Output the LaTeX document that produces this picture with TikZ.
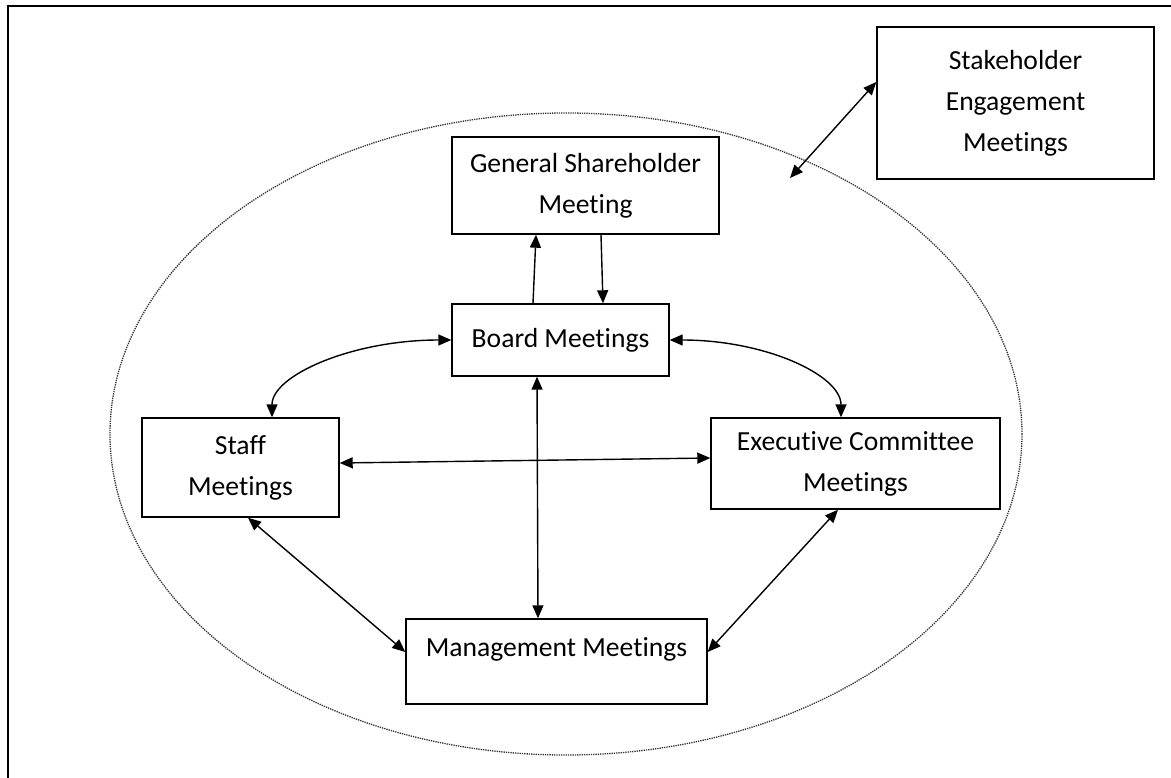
\documentclass[tikz,border=0pt]{standalone}
\usepackage{fontspec}
\setmainfont{Carlito}[Ligatures=NoCommon]
\usetikzlibrary{arrows.meta}
\newcommand{\meetingBox}[5]{%%
  \node[boxStyle,minimum width=#3pt,minimum height=#4pt] (#1) at (#2) {#5};
}
\begin{document}
\begin{tikzpicture}[%%
  x=1pt,y=-1pt,%%
  boxStyle/.style={draw,line width=1.4pt,inner sep=0pt,align=center,font=\fontsize{27.6}{41}\selectfont},%%
  arrowStyle/.style={{Triangle[length=13pt,width=11pt]}-{Triangle[length=13pt,width=11pt]},line width=1.4pt},%%
  oneWayStyle/.style={-{Triangle[length=13pt,width=11pt]},line width=1.4pt},%%
  ellipseStyle/.style={densely dotted,line width=1.3pt,black!80},%%
  frameStyle/.style={line width=2.2pt}
]
\useasboundingbox (0,0) rectangle (1171,778);
%%
%% The frame and the dotted ellipse.
\draw[frameStyle] (1171,6) -- (8,6) -- (8,778);
\draw[ellipseStyle] (566,434) ellipse [x radius=456, y radius=321];
%%
%% The meetings.
\meetingBox{stake}{1015.5,103}{277}{152}{Stakeholder\\Engagement\\Meetings}
\meetingBox{general}{585.5,185.5}{267}{97}{General Shareholder\\Meeting}
\meetingBox{board}{560.5,340}{217}{72}{Board Meetings}
\meetingBox{staff}{240.5,467.5}{197}{99}{Staff\\Meetings}
\meetingBox{exec}{855.5,463.5}{289}{91}{Executive Committee\\Meetings}
\node[boxStyle,minimum width=301pt,minimum height=85pt,text height=20pt,text depth=31pt]
  (mgmt) at (556.5,661.5) {Management Meetings};
\coordinate (outside) at (790,178);
%%
%% Board and general meeting.
\draw[oneWayStyle] ([xshift=-27.5pt]board.north) -- ([xshift=-49.5pt]general.south);
\draw[oneWayStyle] ([xshift=15.5pt]general.south) -- ([xshift=42.5pt]board.north);
%%
%% Board to staff and executive.
\draw[arrowStyle] (board.west) .. controls +(-99,0) and +(0,-42) .. ([xshift=31.5pt]staff.north);
\draw[arrowStyle] (board.east) .. controls +(96,0) and +(0,-42) .. ([xshift=-14.5pt]exec.north);
\draw[arrowStyle] ([yshift=4.5pt]staff.east) -- ([yshift=5.5pt]exec.west);
%%
%% Management links.
\draw[arrowStyle] ([xshift=-23.5pt]board.south) -- ([xshift=-18.5pt]mgmt.north);
\draw[arrowStyle] ([xshift=7.5pt]staff.south) -- ([yshift=9.5pt]mgmt.west);
\draw[arrowStyle] ([xshift=-17.5pt]exec.south) -- ([yshift=9.5pt]mgmt.east);
%%
%% Stakeholder link.
\draw[arrowStyle] ([yshift=21pt]stake.west) -- (outside);
\end{tikzpicture}
\end{document}
